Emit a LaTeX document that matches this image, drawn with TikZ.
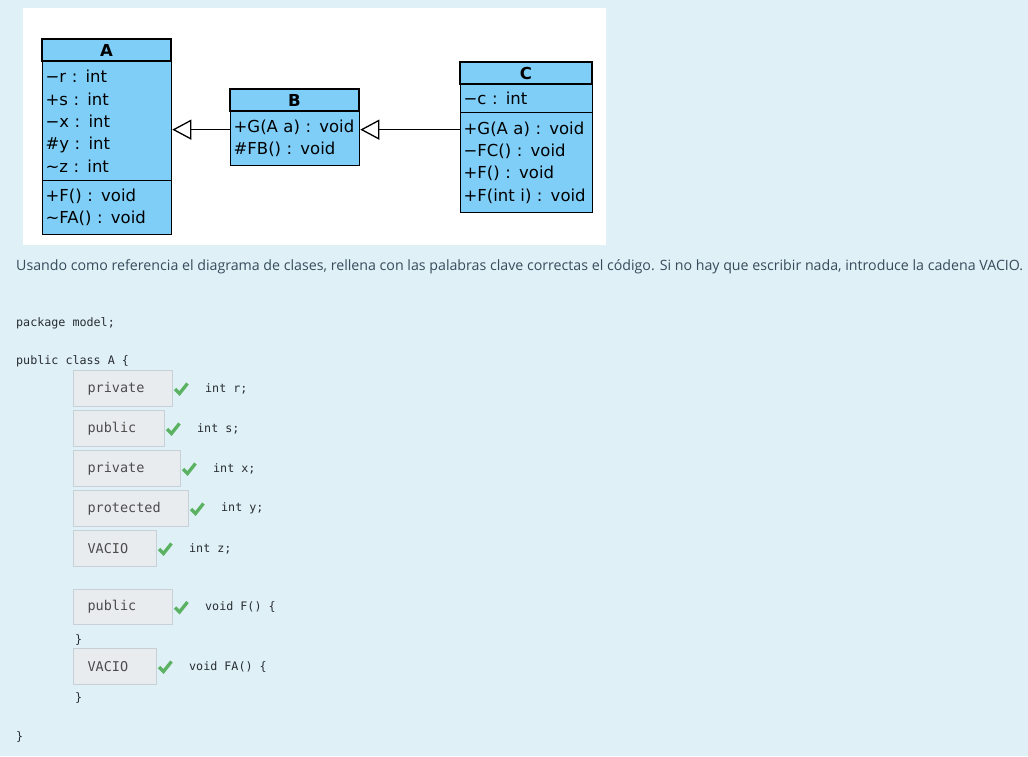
\documentclass[tikz,border=0pt]{standalone}
\usepackage{fontspec}
\usepackage{tikz}
\usetikzlibrary{arrows.meta,positioning}

\newfontfamily\umlfont{DejaVu Sans}
\newfontfamily\askfont{Open Sans}
\setmonofont{DejaVu Sans Mono}

\definecolor{pagebg}{RGB}{223,240,247}
\definecolor{umlblue}{RGB}{127,206,248}
\definecolor{asktext}{RGB}{55,75,90}
\definecolor{srctext}{RGB}{40,45,50}
\definecolor{boxfill}{RGB}{233,236,239}
\definecolor{boxline}{RGB}{200,208,215}
\definecolor{okgreen}{RGB}{90,178,98}

\begin{document}
\begin{tikzpicture}[x = 1pt, y = -1pt,
                        head/.style = {draw, fill = umlblue, line width = 1.3pt, inner sep = 0, minimum height = 22,
                                       font = \umlfont\fontsize{16.5}{20}\selectfont\bfseries},
                        part/.style = {draw, fill = umlblue, line width = 1.3pt, anchor = north west, align = left,
                                       inner xsep = 3, inner ysep = 0, font = \umlfont\fontsize{16.5}{22.3}\selectfont},
                        isa/.style = {line width = 1.3pt, -{Triangle[open, length = 19pt, width = 20pt]}},
                        answer/.style = {draw = boxline, fill = boxfill, line width = 1pt, anchor = north west, align = left,
                                         inner xsep = 14, inner ysep = 0, text = black!70,
                                         font = \ttfamily\fontsize{13.5}{16}\selectfont},
                        src/.style = {anchor = west, inner sep = 0, text = srctext, font = \ttfamily\fontsize{11.7}{14}\selectfont},
                        okmark/.style = {draw = okgreen, line width = 3.3pt}]
      \useasboundingbox (0, 0) rectangle (1028, 756);
      \fill [pagebg] (0, 0) rectangle (1028, 756);
      \fill [white] (23, 8) rectangle (606, 245);

      % class A
      \node [head, minimum width = 129] (Ah) at (106.5, 50) {A};
      \node [part, text width = 123, minimum height = 119] (Aa) at (42, 61)
            {−r : int\\+s : int\\−x : int\\\#y : int\\\textasciitilde z : int};
      \node [part, text width = 123, minimum height = 54] (Am) at (42, 180)
            {+F() : void\\\textasciitilde FA() : void};

      % class B
      \node [head, minimum width = 129] (Bh) at (294.5, 100) {B};
      \node [part, text width = 123, minimum height = 54] (Bm) at (230, 111)
            {+G(A a) : void\\\#FB() : void};

      % class C
      \node [head, minimum width = 132] (Ch) at (526, 73) {C};
      \node [part, text width = 126, minimum height = 28] (Ca) at (460, 84) {−c : int};
      \node [part, text width = 126, minimum height = 100] (Cm) at (460, 112)
            {+G(A a) : void\\−FC() : void\\+F() : void\\+F(int i) : void};

      \draw [isa] ([yshift = 9pt]Bm.west) -- ([yshift = 9pt]Bm.west -| Aa.east);
      \draw [isa] ([yshift = 9pt]Bm.west -| Cm.west) -- ([yshift = 9pt]Bm.east);

      \node [anchor = west, inner sep = 0, text = asktext, font = \askfont\fontsize{14.2}{17}\selectfont] (ask) at (16, 267)
            {Usando como referencia el diagrama de clases, rellena con las palabras clave correctas el código. Si no hay que escribir nada, introduce la cadena VACIO.};

      \node [src] (pkg) at (16, 323) {package model;};
      \node [src] (cls) at (16, 361) {public class A \{};

      \node [answer, text width = 71, minimum height = 36] (k1) at (73, 370) {private};
      \node [answer, text width = 63, minimum height = 36] (k2) at (73, 410) {public};
      \node [answer, text width = 79, minimum height = 36] (k3) at (73, 450) {private};
      \node [answer, text width = 87, minimum height = 36] (k4) at (73, 490) {protected};
      \node [answer, text width = 55, minimum height = 36] (k5) at (73, 530) {VACIO};
      \node [answer, text width = 71, minimum height = 35] (k6) at (73, 589) {public};
      \node [answer, text width = 55, minimum height = 36] (k7) at (73, 648) {VACIO};

      \node [src, right = 32pt of k1] (r1) {int r;};
      \node [src, right = 32pt of k2] (r2) {int s;};
      \node [src, right = 32pt of k3] (r3) {int x;};
      \node [src, right = 32pt of k4] (r4) {int y;};
      \node [src, right = 32pt of k5] (r5) {int z;};
      \node [src, right = 32pt of k6] (r6) {void F() \{};
      \node [src, right = 32pt of k7] (r7) {void FA() \{};

      \draw [okmark] ([xshift = 2pt, yshift = -0.5pt]k1.east) -- ++(4.5, 4.5) -- ++(8, -10);
      \draw [okmark] ([xshift = 2pt, yshift = -0.5pt]k2.east) -- ++(4.5, 4.5) -- ++(8, -10);
      \draw [okmark] ([xshift = 2pt, yshift = -0.5pt]k3.east) -- ++(4.5, 4.5) -- ++(8, -10);
      \draw [okmark] ([xshift = 2pt, yshift = -0.5pt]k4.east) -- ++(4.5, 4.5) -- ++(8, -10);
      \draw [okmark] ([xshift = 2pt, yshift = -0.5pt]k5.east) -- ++(4.5, 4.5) -- ++(8, -10);
      \draw [okmark] ([xshift = 2pt, yshift = -0.5pt]k6.east) -- ++(4.5, 4.5) -- ++(8, -10);
      \draw [okmark] ([xshift = 2pt, yshift = -0.5pt]k7.east) -- ++(4.5, 4.5) -- ++(8, -10);

      \node [src] (endF) at (75, 640) {\}};
      \node [src] (endFA) at (75, 698) {\}};
      \node [src] (endA) at (16, 737) {\}};
\end{tikzpicture}
\end{document}
